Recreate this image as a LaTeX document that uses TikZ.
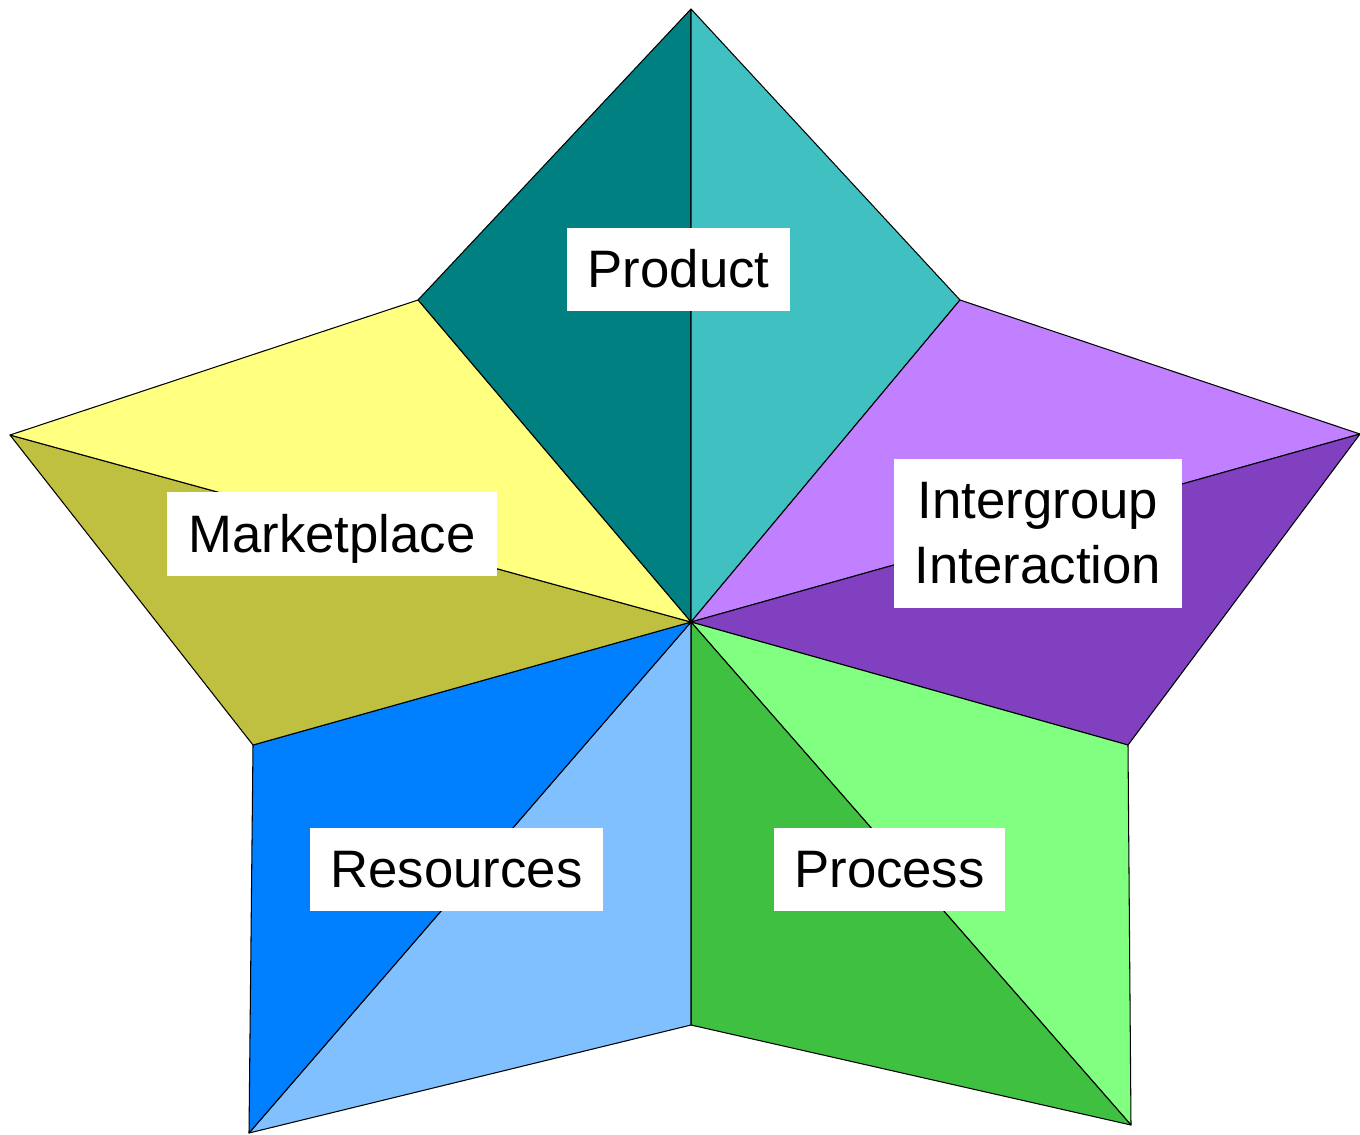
\documentclass[tikz,border=0pt]{standalone}
\usepackage{fontspec}
\setmainfont{Liberation Sans}
\definecolor{tealD}{RGB}{0,128,128}
\definecolor{tealL}{RGB}{64,192,192}
\definecolor{purL}{RGB}{192,128,255}
\definecolor{purD}{RGB}{128,64,192}
\definecolor{grnL}{RGB}{128,255,128}
\definecolor{grnD}{RGB}{64,192,64}
\definecolor{bluL}{RGB}{128,192,255}
\definecolor{bluD}{RGB}{0,128,255}
\definecolor{yelL}{RGB}{255,255,128}
\definecolor{yelD}{RGB}{192,192,64}
\tikzset{
  facet/.style={draw=black, line width=0.6pt, line join=round},
  lbl/.style={fill=white, inner sep=0pt, align=center, text=black,
    font=\fontsize{30}{36.6}\selectfont},
  oneline/.style={text height=21pt, text depth=0pt}
}
\begin{document}
\begin{tikzpicture}[x=0.02cm, y=-0.02cm]
\useasboundingbox (0,0) rectangle (1360,1134);
\coordinate (C) at (691,622);
\coordinate (T) at (691,9);
\coordinate (TL) at (418,300);
\coordinate (TR) at (960,300);
\coordinate (L) at (10,435);
\coordinate (R) at (1360,434);
\coordinate (LL) at (253,745);
\coordinate (LR) at (1128,745);
\coordinate (BL) at (249,1133);
\coordinate (BR) at (1131,1125);
\coordinate (B) at (691,1025);
% Product
\filldraw[facet, fill=tealD] (C) -- (TL) -- (T) -- cycle;
\filldraw[facet, fill=tealL] (C) -- (T) -- (TR) -- cycle;
% Intergroup
\filldraw[facet, fill=purL] (C) -- (TR) -- (R) -- cycle;
\filldraw[facet, fill=purD] (C) -- (R) -- (LR) -- cycle;
% Process
\filldraw[facet, fill=grnL] (C) -- (LR) -- (BR) -- cycle;
\filldraw[facet, fill=grnD] (C) -- (BR) -- (B) -- cycle;
% Resources
\filldraw[facet, fill=bluL] (C) -- (B) -- (BL) -- cycle;
\filldraw[facet, fill=bluD] (C) -- (BL) -- (LL) -- cycle;
% Marketplace
\filldraw[facet, fill=yelD] (C) -- (LL) -- (L) -- cycle;
\filldraw[facet, fill=yelL] (C) -- (L) -- (TL) -- cycle;
% Labels
\node[lbl, oneline, minimum width=223*0.02cm, minimum height=83*0.02cm] (product) at (678.5,269.5) {Product};
\node[lbl, oneline, minimum width=330*0.02cm, minimum height=84*0.02cm] (market) at (332,534) {Marketplace};
\node[lbl, minimum width=288*0.02cm, minimum height=149*0.02cm] (inter) at (1038,533) {Intergroup\\Interaction};
\node[lbl, oneline, minimum width=293*0.02cm, minimum height=83*0.02cm] (resources) at (456.5,869.5) {Resources};
\node[lbl, oneline, minimum width=231*0.02cm, minimum height=83*0.02cm] (process) at (889.5,869.5) {Process};
\end{tikzpicture}
\end{document}
